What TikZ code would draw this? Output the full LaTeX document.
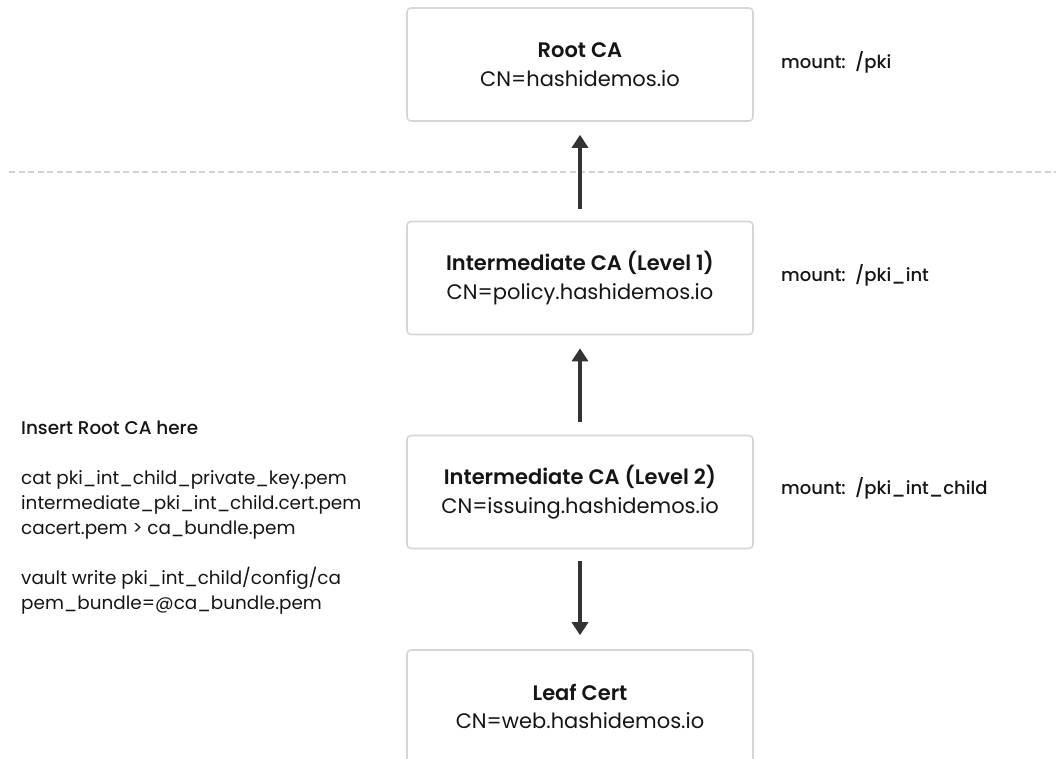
\documentclass[tikz,border=0pt]{standalone}
\usepackage{fontspec}
\setmainfont{Poppins}[BoldFont={Poppins SemiBold}]
\newfontfamily\mediumfont{Poppins Medium}
\usetikzlibrary{arrows.meta}
\definecolor{boxgray}{HTML}{D6D6D6}
\definecolor{dashgray}{HTML}{D2D2D2}
\definecolor{arrowdark}{HTML}{333333}
\definecolor{ink}{HTML}{151515}
\begin{document}
\begin{tikzpicture}[x=1pt,y=-1pt,
  cabox/.style={draw=boxgray, line width=1.6pt, rounded corners=4pt,
    minimum width=346pt, minimum height=113pt, inner sep=0pt,
    align=center, text=ink, font=\fontsize{21}{28.5}\selectfont},
  mountlabel/.style={anchor=west, inner sep=0pt, text=ink,
    font=\fontsize{18}{20}\selectfont\mediumfont},
  notes/.style={anchor=base west, inner sep=0pt, align=left, text=ink,
    font=\fontsize{18.4}{25}\selectfont},
  chain/.style={draw=arrowdark, line width=4pt,
    -{Triangle[length=13pt,width=16pt]}}
]
\useasboundingbox (0,0) rectangle (1056,758);
\clip (0,0) rectangle (1056,758);

% separator between the offline root and the online intermediates
\coordinate (sepL) at (9,172);
\coordinate (sepR) at (1056,172);
\draw[dashgray, line width=2pt, dash pattern=on 6pt off 3.5pt] (sepL) -- (sepR);

% certificate chain
\node[cabox] (root) at (580,64.5)  {{\bfseries Root CA}\\CN=hashidemos.io};
\node[cabox] (lvl1) at (580,278)   {{\bfseries Intermediate CA (Level 1)}\\CN=policy.hashidemos.io};
\node[cabox] (lvl2) at (580,492)   {{\bfseries Intermediate CA (Level 2)}\\CN=issuing.hashidemos.io};
\node[cabox] (leaf) at (580,706.5) {{\bfseries Leaf Cert}\\CN=web.hashidemos.io};

\draw[chain, shorten <=11.5pt, shorten >=13pt] (lvl1.north) -- (root.south);
\draw[chain, shorten <=13pt, shorten >=13pt] (lvl2.north) -- (lvl1.south);
\draw[chain, shorten <=12pt, shorten >=14pt] (lvl2.south) -- (leaf.north);

% secrets engine mount paths
\node[mountlabel] (m0) at (781,62)  {mount:\ \ /pki};
\node[mountlabel] (m1) at (781,275) {mount:\ \ /pki\_int};
\node[mountlabel] (m2) at (781,488) {mount:\ \ /pki\_int\_child};

% bundle instructions (anchored on the baseline of the last line)
\node[notes] (howto) at (21,609) {{\mediumfont Insert Root CA here}\\[25pt]
cat pki\_int\_child\_private\_key.pem\\
intermediate\_pki\_int\_child.cert.pem\\
cacert.pem > ca\_bundle.pem\\[25pt]
vault write pki\_int\_child/config/ca\\
pem\_bundle=@ca\_bundle.pem};
\end{tikzpicture}
\end{document}
